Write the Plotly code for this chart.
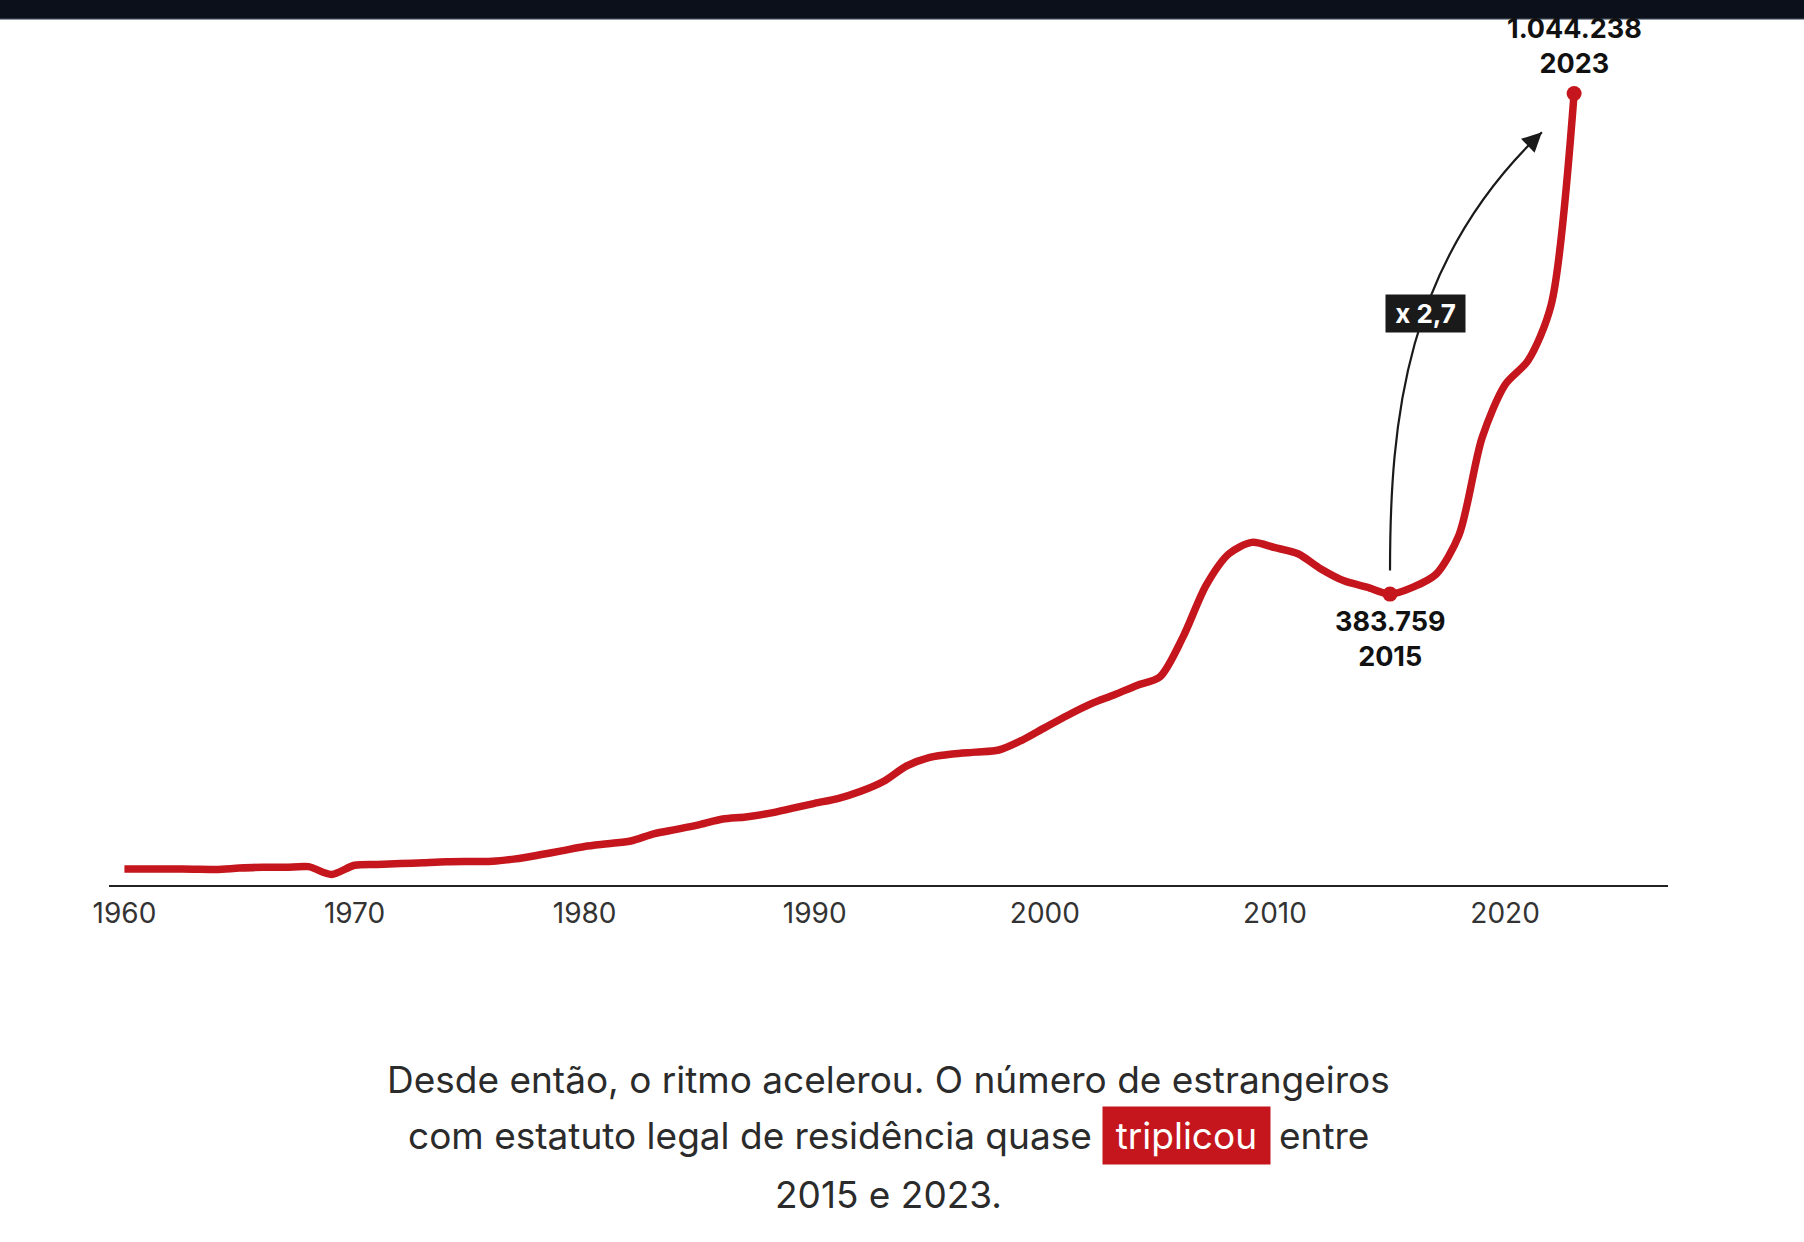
import plotly.graph_objects as go

# foreign residents with legal status, Portugal
years = list(range(1960, 2024))
residents = [
    21000, 21000, 21200, 20800, 20500, 22300, 23500, 23300, 24200, 14000,
    26000, 27200, 28200, 29500, 30700, 31000, 31200, 34500, 39500, 45000,
    50750, 54400, 58100, 67500, 73400, 79600, 87000, 89800, 94500, 101000,
    107800, 114000, 123600, 136900, 157100, 168300, 172900, 175300, 178100, 190900,
    207600, 224000, 238900, 250700, 263300, 274600, 327000, 395000, 437000, 452000,
    445000, 437000, 417000, 401300, 393000, 383759, 393000, 410000, 462000, 590000,
    660000, 692000, 765000, 1044238,
]
tick_years = [1960, 1970, 1980, 1990, 2000, 2010, 2020]
highlight_years = [2015, 2023]

RED = "#c4161c"
INK = "#2b2b2b"
FONT = "Inter, Liberation Sans, sans-serif"
W, H = 1804, 1242
ML, MR, MT, MB = 109, 136, 50, 357
Y_MAX = 1101600


def px(x, y):
    # page pixel -> paper coords
    return (x - ML) / (W - ML - MR), (H - MB - y) / (H - MT - MB)


hl_vals = [residents[years.index(y)] for y in highlight_years]

fig = go.Figure()
fig.add_trace(go.Scatter(
    x=years, y=residents, mode="lines",
    line=dict(color=RED, width=7.5, shape="spline", smoothing=0.8),
    hoverinfo="skip",
))
fig.add_trace(go.Scatter(
    x=highlight_years, y=hl_vals, mode="markers",
    marker=dict(color=RED, size=15), hoverinfo="skip",
))

# curved arrow 2015 -> 2023
p0 = (2015, 415000)
c1 = (2015, 613000)
c2 = (2015.66, 822000)
p3 = (2021.6, 993000)
fig.add_shape(
    type="path", xref="x", yref="y",
    path=f"M {p0[0]} {p0[1]} C {c1[0]} {c1[1]}, {c2[0]} {c2[1]}, {p3[0]} {p3[1]}",
    line=dict(color="#1a1a1a", width=2.2),
)
fig.add_annotation(
    x=p3[0], y=p3[1], ax=-10, ay=9.6, text="", showarrow=True,
    arrowhead=2, arrowsize=1.3, arrowwidth=3, arrowcolor="#1a1a1a", standoff=0,
)

bold = dict(family=FONT, size=27, color="#111111", weight=700)
fig.add_annotation(
    x=2023, y=hl_vals[1], text="1.044.238<br>2023", showarrow=False,
    xanchor="center", yanchor="bottom", yshift=11, font=bold,
)
fig.add_annotation(
    x=2015, y=hl_vals[0], text="383.759<br>2015", showarrow=False,
    xanchor="center", yanchor="top", yshift=-9, font=bold,
)
bx, by = px(1425, 313)
fig.add_annotation(
    x=bx, y=by, xref="paper", yref="paper", text="\u00a0x 2,7\u00a0", showarrow=False,
    xanchor="center", yanchor="middle", bgcolor="#1a1a1a", borderpad=3,
    font=dict(family=FONT, size=26, color="white", weight=700),
)

# bottom paragraph
body = dict(family=FONT, size=37, color=INK)
para = dict(xref="paper", yref="paper", showarrow=False, yanchor="middle", font=body)
x1, y1 = px(889, 1079)
fig.add_annotation(x=x1, y=y1, xanchor="center",
                   text="Desde então, o ritmo acelerou. O número de estrangeiros", **para)
xl, y2 = px(1094, 1135.5)
fig.add_annotation(x=xl, y=y2, xanchor="right",
                   text="com estatuto legal de residência quase", **para)
xb, _ = px(1186.4, 1135.5)
fig.add_annotation(x=xb, y=y2, xref="paper", yref="paper", showarrow=False,
                   xanchor="center", yanchor="middle",
                   text="\u2009triplicou\u2009", bgcolor=RED, borderpad=6,
                   font=dict(body, color="white"))
xr, _ = px(1277, 1135.5)
fig.add_annotation(x=xr, y=y2, xanchor="left", text="entre", **para)
x3, y3 = px(889, 1194)
fig.add_annotation(x=x3, y=y3, xanchor="center", text="2015 e 2023.", **para)

# dark page header strip
_, top0 = px(0, 0)
_, top1 = px(0, 18)
_, top2 = px(0, 19.5)
fig.add_shape(type="rect", xref="paper", yref="paper", x0=-1, x1=2, y0=top1, y1=top0,
              fillcolor="#0b101b", line_width=0, layer="above")
fig.add_shape(type="rect", xref="paper", yref="paper", x0=-1, x1=2, y0=top2, y1=top1,
              fillcolor="#2a3340", line_width=0, layer="above")

fig.update_layout(
    width=W, height=H,
    margin=dict(l=ML, r=MR, t=MT, b=MB),
    paper_bgcolor="white", plot_bgcolor="white",
    showlegend=False,
)
fig.update_xaxes(
    range=[1959.33, 2027.08], tickvals=tick_years, showgrid=False, zeroline=False,
    showline=True, linecolor="#222222", linewidth=2, ticks="", ticklabelstandoff=2,
    tickfont=dict(family=FONT, size=28, color="#333333"),
)
fig.update_yaxes(range=[0, Y_MAX], visible=False)

fig.write_html(
    "out.html",
    config={"displayModeBar": False},
    post_script="document.body.style.margin='0';",
)
